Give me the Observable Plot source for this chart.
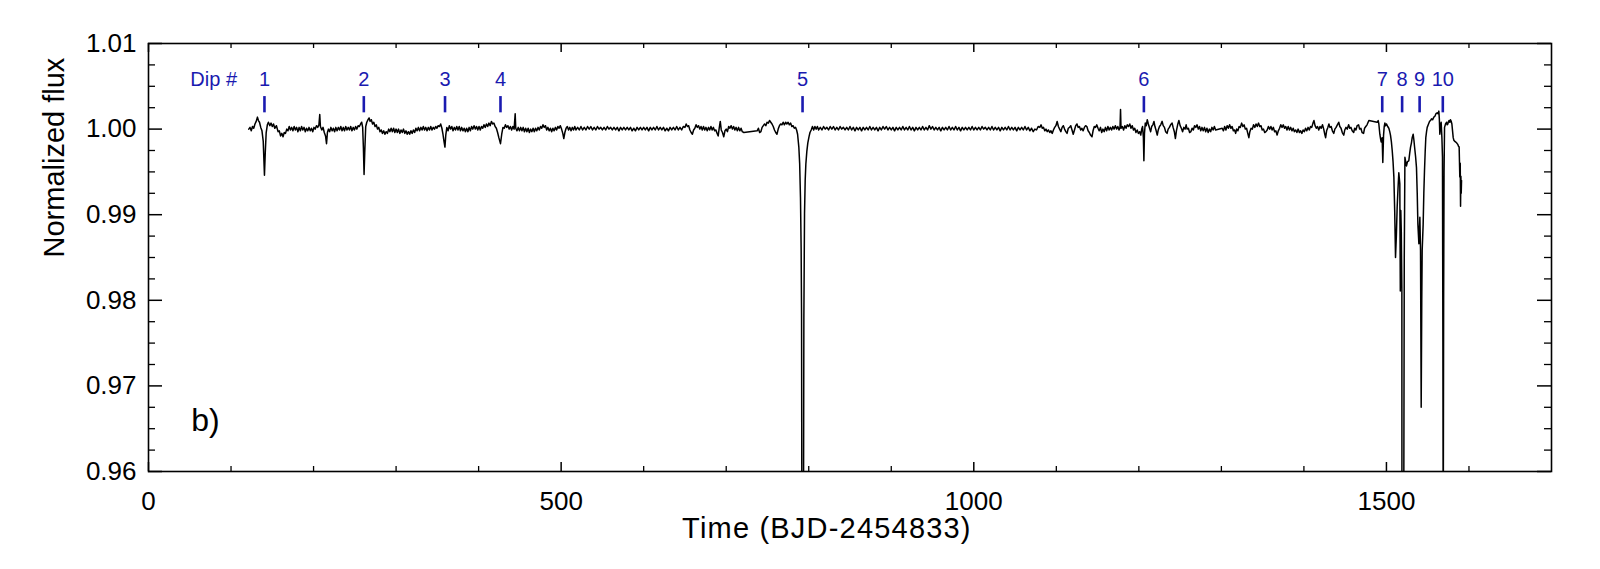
<!DOCTYPE html>
<html><head><meta charset="utf-8">
<script src="https://cdn.jsdelivr.net/npm/d3@7"></script>
<script src="https://cdn.jsdelivr.net/npm/@observablehq/plot@0.6"></script>
<style>body{margin:0;background:#fff;}</style>
</head><body><div id="chart"></div>
<script>
// Light curve segments [time (BJD-2454833), normalized flux]
const seg1 = [[121.5,1.0000],[123,1.0002],[124.5,0.9998],[126,1.0003],[127.5,1.0001],[129,1.0006],[130.5,1.0009],[132,1.0014],[133.2,1.0010],[134.5,1.0008],[136,1.0002],[137.5,0.9998],[139,0.9986],[140.5,0.9946],[141.5,0.9973],[142.6,0.9996],[144,1.0005],[145.3,1.0008],[147,1.0004],[148.5,1.0007],[150,1.0003],[151.5,1.0006],[153,1.0001],[155,1.0004],[157,0.9997],[158.5,0.9998],[160,0.9992],[161.5,0.9995],[163,0.9991],[164.5,0.9996],[166,0.9995],[167.5,1.0000],[169,0.9998],[170.5,1.0003],[172,0.9999],[173.5,1.0002],[175,0.9998],[176.5,1.0003],[178,0.9999],[179.5,1.0002],[181,0.9997],[182.5,1.0002],[184,0.9998],[185.5,1.0003],[187,0.9999],[188.5,1.0002],[190,0.9997],[191.5,1.0001],[193,0.9998],[194.5,1.0002],[196,0.9998],[197.5,1.0001],[199,0.9997],[200.5,1.0002],[202,1.0000],[203.5,1.0004],[205,1.0002],[206.5,1.0005],[207.5,1.0017],[208.3,1.0003],[210,0.9999],[211.5,1.0002],[213,0.9996],[214.5,0.9992],[215.7,0.9983],[216.8,0.9996],[218,1.0000],[219.5,0.9997],[221,1.0002],[222.5,0.9998],[224,1.0001],[225.5,0.9997],[227,1.0002],[228.5,0.9998],[230,1.0002],[231.5,0.9999],[233,1.0003],[234.5,0.9998],[236,1.0002],[237.5,0.9998],[239,1.0003],[240.5,0.9999],[242,1.0002],[243.5,0.9999],[245,1.0003],[246.5,0.9998],[248,1.0002],[249.5,0.9999],[251,1.0003],[252.5,1.0000],[254,1.0004],[255.5,1.0003],[257,1.0006],[258.3,1.0008],[259.5,1.0002],[260.4,0.9978],[261.2,0.9947],[262,0.9972],[263.2,1.0003],[264.5,1.0008],[266,1.0011],[267.3,1.0013],[268.5,1.0009],[270,1.0011],[271.5,1.0006],[273,1.0008],[274.5,1.0003],[276,1.0005],[277.5,1.0000],[279,1.0002],[280.5,0.9997],[282,0.9999],[283.5,0.9995],[285,0.9998],[286.5,0.9994],[288,0.9997],[289.5,0.9995],[291,1.0000],[292.5,0.9997],[294,1.0001],[295.5,0.9997],[297,1.0001],[298.5,0.9996],[300,1.0000],[301.5,0.9996],[303,1.0000],[304.5,0.9995],[306,0.9999],[307.5,0.9996],[309,1.0000],[310.5,0.9995],[312,0.9998],[313.5,0.9994],[315,0.9997],[316.5,0.9994],[318,0.9998],[319.5,0.9995],[321,0.9999],[322.5,0.9996],[324,1.0001],[325.5,0.9998],[327,1.0002],[328.5,0.9998],[330,1.0002],[331.5,0.9999],[333,1.0003],[334.5,0.9999],[336,1.0002],[337.5,0.9998],[339,1.0002],[340.5,0.9999],[342,1.0003],[343.5,0.9999],[345,1.0002],[346.5,1.0000],[348,1.0003],[349.5,1.0001],[351,1.0004],[352.5,1.0003],[354,1.0006],[355.5,1.0001],[356.8,0.9994],[358,0.9986],[359.2,0.9979],[360.2,0.9993],[361.5,1.0002],[363,0.9998],[364.5,1.0004],[366,1.0000],[367.5,1.0003],[369,0.9998],[370.5,1.0002],[372,0.9999],[373.5,1.0003],[375,0.9999],[376.5,1.0003],[378,0.9998],[379.5,1.0002],[381,0.9998],[382.5,1.0001],[384,0.9997],[385.5,1.0001],[387,0.9997],[388.5,1.0002],[390,0.9998],[391.5,1.0003],[393,1.0000],[394.5,1.0004],[396,1.0000],[397.5,1.0003],[399,0.9999],[400.5,1.0003],[402,0.9999],[403.5,1.0003],[405,1.0001],[406.5,1.0005],[408,1.0002],[409.5,1.0006],[411,1.0003],[412.5,1.0007],[414,1.0004],[415.5,1.0009],[417,1.0006],[418.5,1.0007],[420,1.0003],[421.5,1.0001],[423,0.9996],[424.5,0.9990],[426.5,0.9983],[428,0.9994],[429.5,1.0002],[431,1.0001],[432.5,1.0005],[434,1.0002],[435.5,1.0004],[437,1.0000],[438.5,1.0003],[440,0.9999],[441.5,1.0003],[443,1.0000],[444.3,1.0018],[445,1.0001],[446.5,0.9998],[448,1.0002],[449.5,0.9998]];

const seg2 = [[451,1.0002],[452.5,0.9998],[454,1.0002],[455.5,0.9997],[457,1.0001],[458.5,0.9997],[460,1.0001],[461.5,0.9996],[463,1.0000],[464.5,0.9997],[466,1.0001],[467.5,0.9997],[469,1.0001],[470.5,0.9998],[472,1.0002],[473.5,0.9999],[475,1.0003],[476.5,1.0001],[478,1.0005],[479.5,1.0002],[481,1.0004],[482.5,0.9999],[484,1.0002],[485.5,0.9998],[487,1.0001],[488.5,0.9997],[490,1.0001],[491.5,0.9998],[493,1.0002],[494.5,0.9999],[496,1.0003],[497.5,1.0001],[499,1.0004],[500.5,1.0000],[502,0.9995],[503.2,0.9989],[504.5,0.9996],[506,1.0001],[507.5,1.0003],[509,0.9999],[510.5,1.0002],[512,0.9998],[513.5,1.0002],[515,0.9999],[516.5,1.0003],[518,0.9999],[520,1.0002],[522,0.9999],[524,1.0003],[526,0.9999],[528,1.0002],[530,0.9999],[532,1.0003],[534,1.0000],[536,1.0003],[538,0.9999],[540,1.0002],[542,0.9999],[544,1.0003],[546,1.0000],[548,1.0002],[550,0.9999],[552,1.0002],[554,0.9999],[556,1.0003],[558,1.0000],[560,1.0002],[562,0.9999],[564,1.0002],[566,0.9999],[568,1.0002],[570,0.9998],[572,1.0002],[574,0.9999],[576,1.0002],[578,0.9999],[580,1.0002],[582,0.9999],[584,1.0002],[586,0.9998],[588,1.0001],[590,0.9998],[592,1.0002],[594,0.9999],[596,1.0002],[598,0.9999],[600,1.0002],[602,0.9999],[604,1.0002],[606,0.9998],[608,1.0002],[610,0.9999],[612,1.0002],[614,0.9999],[616,1.0003],[618,0.9999],[620,1.0002],[622,0.9999],[624,1.0002],[626,0.9998],[628,1.0001],[630,0.9998],[632,1.0002],[634,0.9999],[636,1.0002],[638,0.9999],[640,1.0003],[642,0.9999],[644,1.0002],[646,0.9999],[648,1.0003],[650,1.0002],[651.5,1.0006],[653,1.0003],[654.5,1.0004],[656,0.9999],[657.5,0.9996],[659,0.9994],[660.5,0.9999],[662,1.0001],[663.5,1.0005],[665,1.0002],[666.5,1.0004],[668,1.0000],[669.5,1.0003],[671,0.9999],[672.5,1.0003],[674,0.9999],[675.5,1.0002],[677,0.9998],[678.5,1.0002],[680,0.9999],[681.5,1.0003],[683,0.9999],[684.5,1.0002],[686,0.9998],[687.5,0.9999],[689,0.9995],[690.3,0.9992],[691.5,1.0001],[692.8,1.0009],[694,0.9999],[695.5,0.9996],[697,0.9991],[698.5,0.9998],[700,1.0000],[701.5,0.9997],[703,1.0003],[704.5,1.0001],[706,1.0004],[707.5,1.0000],[709,1.0003],[710.5,0.9999],[712,1.0002],[713.5,0.9998],[715,1.0002],[716.5,0.9998],[718,1.0001],[719.5,0.9997],[721.4,0.9996],[737.5,0.9998],[739,1.0001],[740.5,0.9996],[742,0.9997],[743.5,1.0002],[745,1.0004],[746.5,1.0006],[748,1.0004],[749.5,1.0008],[751,1.0007],[752.5,1.0010],[754,1.0008],[755.5,1.0006],[757,1.0003],[758.5,0.9999],[760,0.9996],[761.5,0.9994],[763,1.0000],[764.5,1.0004],[766,1.0006],[767.5,1.0005],[769,1.0008],[770.5,1.0005],[772,1.0008],[773.5,1.0006],[775,1.0008],[776.5,1.0005],[778,1.0007],[779.5,1.0003],[781,1.0004],[782.5,1.0001],[784,1.0002],[785.3,0.9999],[786.5,0.9994],[788,0.9979],[789,0.9960],[790,0.9920],[790.8,0.9860],[791.3,0.9784],[791.9,0.9400],[792.6,0.8500],[793.3,0.9350],[794.1,0.9780],[794.9,0.9901],[795.7,0.9940],[796.5,0.9959],[797.7,0.9974],[798.9,0.9984],[800.3,0.9991],[801.5,0.9996],[803,0.9999]];

const seg3 = [[804.5,1.0003],[806,0.9999],[807.5,1.0003],[809,1.0000],[810.5,1.0003],[812,0.9999],[814,1.0002],[816,0.9999],[818,1.0003],[820,1.0000],[822,1.0002],[824,0.9999],[826,1.0003],[828,1.0000],[830,1.0003],[832,0.9999],[834,1.0002],[836,0.9999],[838,1.0003],[840,1.0000],[842,1.0002],[844,0.9999],[846,1.0002],[848,0.9999],[850,1.0003],[852,0.9999],[854,1.0002],[856,0.9998],[858,1.0002],[860,0.9999],[862,1.0002],[864,0.9998],[866,1.0002],[868,0.9999],[870,1.0002],[872,0.9999],[874,1.0003],[876,0.9999],[878,1.0002],[880,0.9999],[882,1.0002],[884,0.9998],[886,1.0002],[888,0.9999],[890,1.0003],[892,1.0000],[894,1.0003],[896,0.9999],[898,1.0002],[900,0.9999],[902,1.0002],[904,0.9998],[906,1.0002],[908,0.9999],[910,1.0002],[912,0.9999],[914,1.0003],[916,0.9999],[918,1.0002],[920,0.9999],[922,1.0003],[924,0.9999],[926,1.0002],[928,0.9998],[930,1.0002],[932,0.9999],[934,1.0002],[936,0.9999],[938,1.0003],[940,0.9999],[942,1.0002],[944,0.9999],[946,1.0004],[948,1.0000],[950,1.0003],[952,0.9999],[954,1.0002],[956,0.9999],[958,1.0002],[960,0.9998],[962,1.0002],[964,0.9999],[966,1.0002],[968,0.9999],[970,1.0003],[972,0.9999],[974,1.0002],[976,0.9999],[978,1.0003],[980,0.9999],[982,1.0002],[984,0.9998],[986,1.0002],[988,0.9999],[990,1.0002],[992,0.9999],[994,1.0002],[996,0.9999],[998,1.0003],[1000,0.9999],[1002,1.0002],[1004,0.9999],[1006,1.0002],[1008,0.9999],[1010,1.0003],[1012,1.0000],[1014,1.0002],[1016,0.9999],[1018,1.0002],[1020,0.9999],[1022,1.0003],[1024,0.9999],[1026,1.0002],[1028,0.9999],[1030,1.0002],[1032,0.9998],[1034,1.0002],[1036,0.9999],[1038,1.0002],[1040,0.9999],[1042,1.0003],[1044,0.9999],[1046,1.0002],[1048,0.9999],[1050,1.0002],[1052,0.9998],[1054,1.0002],[1056,0.9999],[1058,1.0002],[1060,0.9999],[1062,1.0003],[1064,0.9999],[1066,1.0002],[1068,0.9998],[1070,1.0001],[1072,0.9997],[1074,1.0000],[1076,0.9999],[1078,1.0003],[1080,1.0002],[1081.5,1.0005],[1083,1.0001],[1084.5,1.0002],[1086,0.9998],[1087.5,1.0000],[1089,0.9997],[1090.5,0.9999],[1092,0.9996],[1093.5,0.9998],[1095,0.9995],[1096.5,0.9999],[1098,1.0002],[1099.5,1.0004],[1101,1.0009],[1102.5,1.0003],[1104,1.0000],[1105.5,0.9997],[1107,1.0002],[1108.5,1.0004],[1110,1.0000],[1111.5,0.9997],[1113,0.9995],[1114.5,1.0001],[1116,1.0002],[1117.5,1.0004],[1119,0.9999],[1120.5,0.9994],[1122,0.9999],[1123.5,1.0004],[1125,1.0006],[1126.5,1.0002],[1128,1.0003],[1129.5,0.9999],[1131,1.0001],[1132.5,0.9998],[1134,1.0002],[1135.5,1.0004],[1137,1.0003],[1138.5,0.9998],[1140,0.9996],[1141.5,0.9993],[1143.2,0.9991],[1144.5,0.9998],[1146,1.0003],[1147.5,1.0002],[1149,1.0005],[1150.5,1.0001]];

const seg4 = [[1152,0.9998],[1153.5,1.0002],[1155,0.9996],[1156.5,1.0000],[1158,0.9997],[1159.5,1.0002],[1161,0.9998],[1162.5,1.0003],[1164,0.9999],[1165.5,1.0002],[1167,0.9999],[1168.5,1.0003],[1170,1.0000],[1171.5,1.0004],[1173,1.0000],[1174.5,1.0003],[1176,0.9999],[1177.2,1.0002],[1177.8,1.0023],[1178.4,1.0001],[1180,1.0003],[1181.5,0.9999],[1183,1.0004],[1184.5,1.0001],[1186,1.0005],[1187.5,1.0003],[1189,1.0006],[1190.5,1.0001],[1192,1.0004],[1193.5,0.9999],[1195,1.0001],[1196.5,0.9996],[1198,0.9999],[1199.5,0.9995],[1201,0.9997],[1202.3,0.9993],[1203.5,1.0000],[1204.5,1.0003],[1205.5,0.9990],[1206.1,0.9963],[1206.8,0.9995],[1207.8,1.0007],[1209,1.0004],[1210.2,1.0011],[1211.5,1.0006],[1213,1.0001],[1214.3,0.9997],[1215.5,1.0003],[1217,1.0005],[1218.3,1.0009],[1219.5,1.0003],[1221,0.9998],[1222.3,0.9993],[1223.5,0.9999],[1225,1.0003],[1226.5,1.0005],[1228.2,1.0009],[1229.5,1.0004],[1231,1.0002],[1232.5,0.9997],[1234.2,0.9995],[1235.5,1.0000],[1237,1.0002],[1238.5,1.0005],[1240.3,1.0007],[1241.5,1.0002],[1243,0.9997],[1244.3,0.9989],[1245.5,0.9998],[1247,1.0005],[1248.5,1.0010],[1250,1.0004],[1251.5,1.0001],[1253,0.9997],[1254.5,1.0002],[1256,1.0000],[1257.3,1.0005],[1258.5,1.0000],[1260,1.0001],[1261.5,0.9996],[1263,0.9997],[1264.5,1.0001],[1266,0.9999],[1267.5,1.0004],[1269,1.0002],[1270.5,1.0005],[1272,1.0000],[1273.5,1.0003],[1275,0.9998],[1276.5,1.0002],[1278,0.9998],[1279.5,1.0002],[1281,0.9997],[1282.5,1.0001],[1284,0.9996],[1285.5,1.0000],[1287,0.9997],[1288.5,1.0002],[1290,0.9999],[1291.5,1.0003],[1293,0.9999],[1301,1.0001],[1302.5,0.9998],[1304,1.0003],[1305.5,0.9999],[1307,1.0004],[1308.5,1.0001],[1310,1.0005],[1311.5,1.0001],[1313,1.0003],[1314.5,0.9998],[1316,0.9999],[1317.3,0.9995],[1318.5,1.0000],[1320,0.9998],[1321.5,1.0003],[1323,1.0002],[1324.5,1.0007],[1326,1.0003],[1327.5,1.0005],[1329,1.0000],[1330.5,1.0001],[1332,0.9995],[1333.3,0.9990],[1334.5,0.9997],[1336,1.0001],[1337.5,1.0000],[1339,1.0005],[1340.5,1.0002],[1342,1.0006],[1343.5,1.0003],[1345,1.0007],[1346.5,1.0003],[1348,1.0004],[1349.5,0.9999],[1351,1.0000],[1352.5,0.9996],[1354,0.9997],[1355.5,0.9999],[1357,1.0003],[1358.5,1.0000],[1360,1.0003],[1361.5,0.9999],[1363,1.0002],[1364.5,0.9997],[1366,0.9998],[1367.5,0.9993],[1369,0.9998],[1370.5,1.0001],[1372,1.0005],[1373.5,1.0002],[1375,1.0005],[1376.5,1.0001],[1378,1.0003],[1379.5,0.9999],[1381,1.0003],[1382.5,0.9999],[1384,1.0002],[1385.5,0.9998],[1387,1.0001],[1388.5,0.9997],[1390,0.9999],[1391.5,0.9996],[1393,1.0000],[1394.5,0.9996],[1396,0.9998],[1397.5,0.9995],[1399,0.9999],[1400.5,0.9997],[1402,1.0001],[1403.5,0.9998],[1405,1.0002],[1406.5,0.9999],[1408,1.0003],[1409.5,1.0002],[1411,1.0007],[1412.2,1.0010],[1413.5,1.0004],[1415,1.0001],[1416.5,1.0003],[1418,0.9999],[1419.5,1.0003],[1421,1.0001],[1422.5,1.0005],[1424,1.0000],[1425.3,0.9994],[1426.3,0.9990],[1427.5,0.9998],[1429,1.0002],[1430.3,1.0006],[1431.5,1.0002],[1433,1.0003],[1434.5,0.9998],[1436.2,0.9995],[1437.5,1.0000],[1439,1.0002],[1440.5,1.0005],[1442.2,1.0008],[1443.5,1.0003],[1445,1.0001],[1446.5,0.9996],[1448.3,0.9993],[1449.5,0.9999],[1451,1.0002],[1452.5,1.0000],[1454.2,1.0005],[1455.5,1.0001],[1457,1.0002],[1458.5,0.9998],[1460.3,0.9996],[1461.5,1.0001],[1463,0.9999],[1464.5,1.0004],[1466.3,1.0005],[1467.5,1.0000],[1469,1.0001],[1470.5,0.9996],[1472.3,0.9995],[1473.5,1.0001],[1475,1.0003],[1476.5,1.0005],[1477.8,1.0008],[1478.7,1.0010]];

const seg5 = [[1488.8,1.0008],[1490,1.0010],[1490.8,1.0006],[1492,0.9994],[1493,0.9988],[1493.6,0.9985],[1494.8,0.9990],[1495.6,0.9961],[1496.5,0.9993],[1497.3,1.0003],[1498.1,1.0007],[1499,1.0004],[1500.1,1.0006],[1501.5,1.0003],[1502.9,1.0001],[1504,0.9997],[1504.9,0.9993],[1506,0.9985],[1507,0.9975],[1508,0.9962],[1509,0.9944],[1510,0.9905],[1511,0.9850],[1512,0.9875],[1513,0.9909],[1514,0.9930],[1515,0.9949],[1516.2,0.9936],[1516.8,0.9811],[1517.4,0.9905],[1518,0.9880],[1518.7,0.9811],[1519.3,0.8000],[1520.2,0.8500],[1520.9,0.9500],[1521.6,0.9850],[1522.4,0.9967],[1523.3,0.9962],[1524.3,0.9957],[1525.5,0.9962],[1527.1,0.9963],[1528.2,0.9972],[1529.2,0.9979],[1530.3,0.9984],[1531.2,0.9990],[1532.4,0.9994],[1533.3,0.9987],[1534,0.9980],[1535.3,0.9968],[1536.4,0.9955],[1537.3,0.9925],[1538.1,0.9889],[1539.3,0.9866],[1540.5,0.9897],[1541.3,0.9858],[1542.1,0.9675],[1542.8,0.9800],[1543.3,0.9858],[1544.5,0.9889],[1545.3,0.9925],[1546.1,0.9951],[1547,0.9975],[1547.7,0.9990],[1548.6,0.9997],[1549.4,1.0002],[1551,1.0006],[1552.2,1.0009],[1553.4,1.0010],[1554.6,1.0012],[1556,1.0011],[1557.4,1.0014],[1558.7,1.0015],[1560,1.0018],[1561.5,1.0019],[1562.5,1.0018],[1563.5,1.0021],[1564.1,1.0012],[1564.7,0.9994],[1565.5,1.0003],[1566.3,1.0008],[1567.2,0.9990],[1567.9,0.9967],[1568.4,0.9745],[1568.8,0.9500],[1569.3,0.9800],[1569.8,0.9950],[1570.4,1.0002],[1571.6,1.0006],[1572.8,1.0008],[1573.6,1.0005],[1574.4,1.0006],[1575.2,1.0009],[1576,1.0010],[1576.8,1.0008],[1577.6,1.0011],[1578.5,1.0009],[1579.3,1.0006],[1580.1,0.9998],[1580.9,0.9990],[1581.7,0.9987],[1582.5,0.9986],[1583.7,0.9985],[1584.9,0.9984],[1585.7,0.9983],[1586.5,0.9982],[1587.3,0.9980],[1588.1,0.9979],[1588.9,0.9944],[1589.4,0.9960],[1589.8,0.9910],[1590.2,0.9945],[1590.6,0.9925],[1591,0.9940]];

// Dip markers
const dipLabels = ["1","2","3","4","5","6","7","8","9","10"];
const dipTimes = [140.5, 260.9, 359.3, 426.5, 792.5, 1206.1, 1494.9, 1519.0, 1540.2, 1568.3];

// Axis ticks
const xMajor = [0, 500, 1000, 1500];
const xMinor = [100, 200, 300, 400, 600, 700, 800, 900, 1100, 1200, 1300, 1400, 1600];
const yMajor = [0.96, 0.97, 0.98, 0.99, 1.00, 1.01];
const yMinor = [0.9625, 0.965, 0.9675, 0.9725, 0.975, 0.9775, 0.9825, 0.985, 0.9875, 0.9925, 0.995, 0.9975, 1.0025, 1.005, 1.0075];

const xLabel = "Time (BJD-2454833)";
const yLabel = "Normalized flux";
const panelTag = "b)";
const dipHeader = "Dip #";

const lc = [...seg1, ...seg2, ...seg3, ...seg4, ...seg5].map(([t, f]) => ({t, f}));

const W = 1600, H = 569, mL = 148, mR = 49, mT = 43, mB = 98;
const iW = W - mL - mR, iH = H - mT - mB;
const blue = "#1a1ab0";
const font = "'Liberation Sans', Arial, Helvetica, sans-serif";

const chart = Plot.plot({
  width: W, height: H,
  marginLeft: mL, marginRight: mR, marginTop: mT, marginBottom: mB,
  x: {domain: [0, 1700]},
  y: {domain: [0.96, 1.01]},
  style: {fontFamily: font, fontSize: "26px", background: "#fff", color: "#000"},
  marks: [
    Plot.line(lc, {x: "t", y: "f", stroke: "#000", strokeWidth: 1.5, clip: true}),
    // inward ticks: bottom/top
    Plot.tickX(xMajor, {x: d => d, insetTop: iH - 9, stroke: "#000", strokeWidth: 1.5}),
    Plot.tickX(xMajor, {x: d => d, insetBottom: iH - 9, stroke: "#000", strokeWidth: 1.5}),
    Plot.tickX(xMinor, {x: d => d, insetTop: iH - 5, stroke: "#000", strokeWidth: 1.3}),
    Plot.tickX(xMinor, {x: d => d, insetBottom: iH - 5, stroke: "#000", strokeWidth: 1.3}),
    // inward ticks: left/right
    Plot.tickY(yMajor, {y: d => d, insetRight: iW - 14, stroke: "#000", strokeWidth: 1.5}),
    Plot.tickY(yMajor, {y: d => d, insetLeft: iW - 14, stroke: "#000", strokeWidth: 1.5}),
    Plot.tickY(yMinor, {y: d => d, insetRight: iW - 7, stroke: "#000", strokeWidth: 1.3}),
    Plot.tickY(yMinor, {y: d => d, insetLeft: iW - 7, stroke: "#000", strokeWidth: 1.3}),
    Plot.frame({stroke: "#000", strokeWidth: 1.6}),
    Plot.axisX({ticks: xMajor, tickSize: 0, tickPadding: 20, label: null, tickFormat: d => String(d), fontSize: 26}),
    Plot.axisY({ticks: yMajor, tickSize: 0, tickPadding: 12, label: null, tickFormat: d3.format(".2f"), fontSize: 26}),
    Plot.text([xLabel], {x: 822, frameAnchor: "bottom", lineAnchor: "middle", dy: 57, fontSize: 29, fill: "#000"}),
    Plot.text([yLabel], {frameAnchor: "left", lineAnchor: "middle", dx: -94, rotate: -90, fontSize: 29, fill: "#000"}),
    // dip markers
    Plot.ruleX(dipTimes, {x: d => d, y1: 1.0019, y2: 1.0038, stroke: blue, strokeWidth: 2.6}),
    Plot.text(dipLabels, {x: (d, i) => dipTimes[i], y: 1.00576, text: d => d, fill: blue, fontSize: 20}),
    Plot.text([dipHeader], {x: 79, y: 1.00576, fill: blue, fontSize: 20}),
    Plot.text([panelTag], {x: 69, y: 0.9659, fill: "#000", fontSize: 32})
  ]
});
d3.select(chart).selectAll("text").filter(function() { return this.textContent === xLabel; }).style("letter-spacing", "1.2px");
document.getElementById("chart").appendChild(chart);
</script>
</body></html>
